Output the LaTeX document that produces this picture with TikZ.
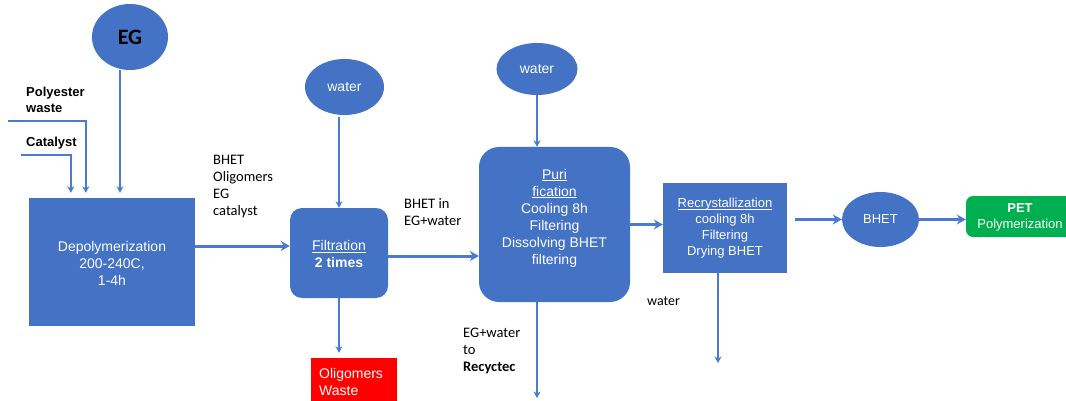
\documentclass[tikz,border=0pt]{standalone}
\usepackage{fontspec}
\setmainfont{Liberation Sans}
\newfontfamily\calibri{Carlito}
\usetikzlibrary{arrows.meta,shapes.geometric,calc}
\definecolor{boxblue}{HTML}{4472C4}
\definecolor{lineblue}{HTML}{4A7BD0}
\definecolor{wastered}{HTML}{FF0000}
\definecolor{petgreen}{HTML}{00B050}
\newcommand\fsN{\fontsize{14}{17}\selectfont}
\newcommand\fsS{\fontsize{13}{16}\selectfont}
\newcommand\fsC{\calibri\fontsize{14.5}{17}\selectfont}
% underline set just below the baseline
\newcommand\undl[1]{\setbox0\hbox{#1}\rlap{\rule[-1.9pt]{\wd0}{0.7pt}}\box0}
\tikzset{
  procbox/.style={fill=boxblue, draw=none, inner sep=0, minimum width=#1},
  procbox/.default=100pt,
  feed/.style={ellipse, fill=boxblue, draw=none, inner sep=0},
  intext/.style={text=white, align=center, inner sep=0},
  lbl/.style={anchor=west, align=left, inner sep=0, font=\fsC},
  thinflow/.style={draw=lineblue, line width=1.8pt, -{Stealth[length=6.5pt,width=7pt,inset=2pt]}},
  mainflow/.style={draw=lineblue, line width=3pt, -{Stealth[length=9pt,width=10pt,inset=3pt]}}
}
\begin{document}
\begin{tikzpicture}[x=1pt, y=-1pt]
\path[use as bounding box, clip] (0,0) rectangle (1066,401);
\fill[white] (0,0) rectangle (1066,401);

% feed ellipses
\node[feed, minimum width=76pt, minimum height=66pt] (eg) at (130,37)
  {\calibri\bfseries\fontsize{22}{24}\selectfont EG};
\node[feed, minimum width=79pt, minimum height=56pt, text=white, font=\fsN] (w1) at (344.5,87) {water};
\node[feed, minimum width=81pt, minimum height=52pt, text=white, font=\fsN] (w2) at (537,69) {water};
\node[feed, minimum width=77pt, minimum height=55pt, text=white, font=\fsS] (bhet) at (880.5,219.5) {BHET};

% process boxes
\node[procbox=166pt, minimum height=128pt] (dep) at (112,262) {};
\node[intext, font=\fsN] (deptxt) at (112,263) {Depolymerization\\200-240C,\\1-4h};

\node[procbox=98pt, minimum height=90pt, rounded corners=12pt] (filt) at (339,253) {};
\node[intext, font=\fsN] (filttxt) at (339,254) {\undl{Filtration}\\\textbf{2 times}};

\node[procbox=151pt, minimum height=155pt, rounded corners=20pt] (pur) at (554.5,224.5) {};
\node[intext, font=\fsN] (purtxt) at (554.5,218)
  {\undl{Puri}\\\undl{fication}\\Cooling 8h\\Filtering\\Dissolving BHET\\filtering};

\node[procbox=124pt, minimum height=90pt] (rec) at (725,228) {};
\node[intext, font=\fsS] (rectxt) at (725,228.5)
  {\undl{Recrystallization}\\cooling 8h\\Filtering\\Drying BHET};

\node[procbox=108pt, minimum height=41pt, fill=petgreen, rounded corners=7pt] (pet) at (1020,216.5) {};
\node[intext, font=\fsS] (pettxt) at (1020,217) {\textbf{PET}\\Polymerization};

\node[procbox=86pt, minimum height=60pt, fill=wastered] (olig) at (354,388) {};
\node[intext, align=left, anchor=west, font=\fsN] (oligtxt) at (319,382) {Oligomers\\Waste};

% side labels
\node[anchor=west, align=left, inner sep=0, font=\fsS\bfseries] (pwlbl) at (26,100) {Polyester\\waste};
\node[anchor=west, align=left, inner sep=0, font=\fsS\bfseries] (catlbl) at (26,143) {Catalyst};
\node[lbl] (mixlbl) at (213,187) {BHET\\Oligomers\\EG\\catalyst};
\node[lbl] (bhetin) at (404,212) {BHET in\\EG+water};
\node[lbl] (recyc) at (463,351) {EG+water\\to\\\textbf{Recyctec}};
\node[lbl, font=\calibri\fontsize{14}{17}\selectfont] (wout) at (647,301) {water};

% free ends of feed and outlet lines
\coordinate (pwin) at (8,121);
\coordinate (catin) at (21,155);
\coordinate (recout) at (537,398);
\coordinate (wateroutend) at (718,363);

% feeds into depolymerization
\draw[thinflow] (pwin) -| ([xshift=57pt,yshift=5pt]dep.north west);
\draw[thinflow] (catin) -| ([xshift=42pt,yshift=5pt]dep.north west);
\draw[thinflow] ([xshift=-10pt]eg.south) -- ([xshift=-10pt,yshift=5pt]eg.south |- dep.north);

% water feeds
\draw[thinflow, shorten <=2pt] (filt.north |- w1.south) -- (filt.north);
\draw[thinflow] (w2.south) -- (w2.south |- pur.north);

% main process line
\draw[mainflow] ([yshift=16pt]dep.east) -- ([yshift=16pt]dep.east -| filt.west);
\draw[mainflow] ([yshift=-3pt]filt.east) -- ([yshift=-3pt]filt.east -| pur.west);
\draw[mainflow] (pur.east) -- (pur.east -| rec.west);
\draw[mainflow, shorten <=8pt] (rec.east |- bhet.west) -- (bhet.west);
\draw[mainflow] (bhet.east) -- (bhet.east -| pet.west);

% outlets
\draw[thinflow, shorten >=5pt] (filt.south) -- (filt.south |- olig.north);
\draw[thinflow] (pur.south -| recout) -- (recout);
\draw[thinflow] (rec.south -| wateroutend) -- (wateroutend);
\end{tikzpicture}
\end{document}
